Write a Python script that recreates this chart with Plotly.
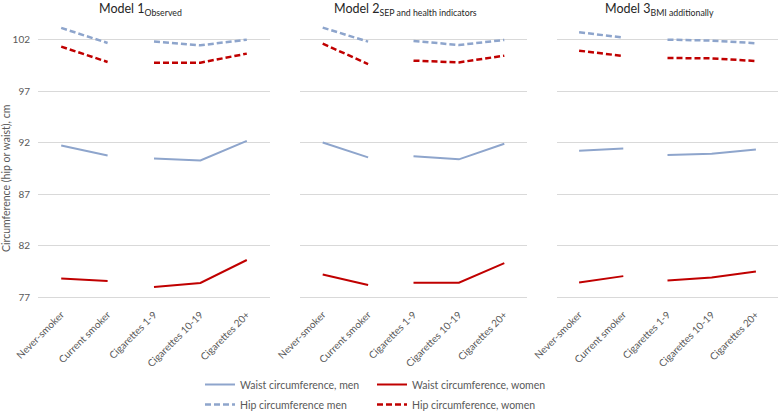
import plotly.graph_objects as go

categories = ["Never-smoker", "Current smoker", "Cigarettes 1-9", "Cigarettes 10-19", "Cigarettes 20+"]
y_ticks = [77, 82, 87, 92, 97, 102]

model_titles = ["Model 1<sub>Observed</sub>",
                "Model 2<sub>SEP and health indicators</sub>",
                "Model 3<sub>BMI additionally</sub>"]

waist_men_m1 = [91.74, 90.77, 90.47, 90.28, 92.19]
waist_women_m1 = [78.79, 78.56, 77.97, 78.36, 80.60]
hip_men_m1 = [103.17, 101.71, 101.84, 101.48, 102.03]
hip_women_m1 = [101.35, 99.86, 99.79, 99.79, 100.67]

waist_men_m2 = [92.03, 90.58, 90.68, 90.39, 91.90]
waist_women_m2 = [79.19, 78.16, 78.39, 78.39, 80.29]
hip_men_m2 = [103.20, 101.84, 101.90, 101.51, 102.00]
hip_women_m2 = [101.64, 99.66, 99.99, 99.82, 100.47]

waist_men_m3 = [91.23, 91.45, 90.81, 90.94, 91.35]
waist_women_m3 = [78.42, 79.03, 78.61, 78.90, 79.48]
hip_men_m3 = [102.75, 102.23, 102.03, 101.94, 101.68]
hip_women_m3 = [100.96, 100.44, 100.25, 100.21, 99.95]

series_names = ["Waist circumference, men", "Hip circumference men",
                "Waist circumference, women", "Hip circumference, women"]

models = [
    [waist_men_m1, hip_men_m1, waist_women_m1, hip_women_m1],
    [waist_men_m2, hip_men_m2, waist_women_m2, hip_women_m2],
    [waist_men_m3, hip_men_m3, waist_women_m3, hip_women_m3],
]

BLUE = "#8EA5CC"
RED = "#C00000"
styles = [
    dict(color=BLUE, width=2, dash="solid"),
    dict(color=BLUE, width=2.5, dash="6px,3px"),
    dict(color=RED, width=2, dash="solid"),
    dict(color=RED, width=2.5, dash="6px,3px"),
]
legend_ids = ["legend", "legend", "legend2", "legend2"]

W, H = 778, 413
FONT = "Lato"
TXT = "#595959"

x_domains = [(38, 270), (300, 527), (557, 778)]
y_top, y_bot = 19.4, 297

fig = go.Figure()

for p, series in enumerate(models):
    xa = "x" if p == 0 else f"x{p+1}"
    ya = "y" if p == 0 else f"y{p+1}"
    for s, vals in enumerate(series):
        for seg in (slice(0, 2), slice(2, 5)):
            fig.add_trace(go.Scatter(
                x=categories[seg], y=vals[seg], mode="lines",
                line=styles[s], name=series_names[s],
                legend=legend_ids[s], legendgroup=series_names[s],
                showlegend=(p == 0 and seg.start == 0),
                xaxis=xa, yaxis=ya, hoverinfo="skip"))

layout = dict(
    width=W, height=H,
    margin=dict(l=0, r=0, t=0, b=0, autoexpand=False),
    paper_bgcolor="white", plot_bgcolor="white",
    font=dict(family=FONT, size=10, color=TXT),
)

for p in range(3):
    sx = "" if p == 0 else str(p + 1)
    x0, x1 = x_domains[p]
    layout["xaxis" + sx] = dict(
        domain=[x0 / W, x1 / W], anchor="y" + sx, automargin=False,
        type="category", categoryorder="array", categoryarray=categories,
        range=[-0.5, 4.5], showgrid=False, zeroline=False,
        showline=True, linecolor="#D9D9D9", linewidth=1,
        ticks="", tickangle=-45, ticklabelstandoff=7,
        tickfont=dict(family=FONT, size=10, color=TXT),
    )
    layout["yaxis" + sx] = dict(
        domain=[(H - y_bot) / H, (H - y_top) / H], anchor="x" + sx, automargin=False,
        range=[77, 104], tickvals=y_ticks,
        showticklabels=(p == 0),
        showgrid=True, gridcolor="#D9D9D9", gridwidth=1,
        zeroline=False, showline=False, ticks="",
        tickfont=dict(family=FONT, size=10, color=TXT),
        ticklabelstandoff=7,
    )

layout["legend"] = dict(x=200 / W, y=1 - 370 / H, xanchor="left", yanchor="top",
                        orientation="v", font=dict(family=FONT, size=10.5, color=TXT),
                        bgcolor="rgba(0,0,0,0)", tracegroupgap=1)
layout["legend2"] = dict(x=372 / W, y=1 - 370 / H, xanchor="left", yanchor="top",
                         orientation="v", font=dict(family=FONT, size=10.5, color=TXT),
                         bgcolor="rgba(0,0,0,0)", tracegroupgap=1)

title_x = [97, 332, 603]
annotations = []
for p in range(3):
    annotations.append(dict(
        text=model_titles[p], x=title_x[p] / W, y=1 - 9 / H,
        xref="paper", yref="paper", xanchor="left", yanchor="middle",
        showarrow=False, font=dict(family=FONT, size=12.5, color="#262626")))
annotations.append(dict(
    text="Circumference (hip or waist), cm", x=6 / W, y=1 - 179 / H,
    xref="paper", yref="paper", xanchor="center", yanchor="middle",
    textangle=-90, showarrow=False, font=dict(family=FONT, size=10.5, color=TXT)))
layout["annotations"] = annotations

fig.update_layout(**layout)
fig.write_html("out.html", config={"displayModeBar": False},
               post_script="document.body.style.margin='0';")
